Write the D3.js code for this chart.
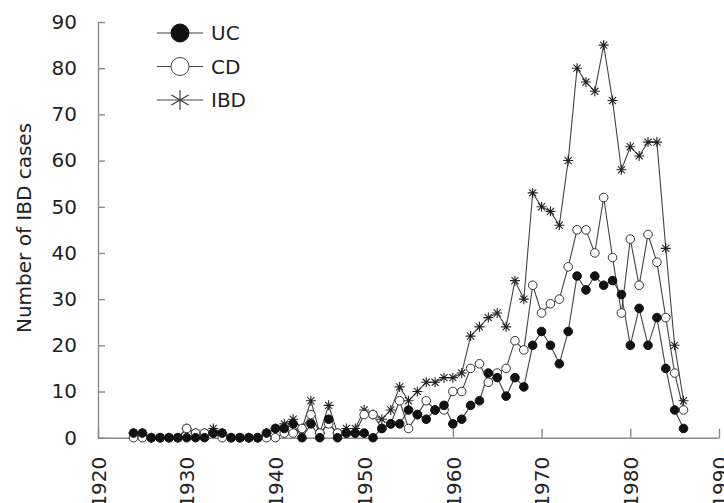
<!DOCTYPE html>
<html>
<head>
<meta charset="utf-8">
<script src="https://cdn.jsdelivr.net/npm/d3@7"></script>
<style>
body { margin: 0; background: #fff; }
text { font-family: "DejaVu Sans", sans-serif; }
</style>
</head>
<body>
<div id="chart"></div>
<script>
var years = [1924, 1925, 1926, 1927, 1928, 1929, 1930, 1931, 1932, 1933,
             1934, 1935, 1936, 1937, 1938, 1939, 1940, 1941, 1942, 1943,
             1944, 1945, 1946, 1947, 1948, 1949, 1950, 1951, 1952, 1953,
             1954, 1955, 1956, 1957, 1958, 1959, 1960, 1961, 1962, 1963,
             1964, 1965, 1966, 1967, 1968, 1969, 1970, 1971, 1972, 1973,
             1974, 1975, 1976, 1977, 1978, 1979, 1980, 1981, 1982, 1983,
             1984, 1985, 1986];

var ucCases = [1, 1, 0, 0, 0, 0, 0, 0, 0, 1,
               1, 0, 0, 0, 0, 1, 2, 2, 3, 0,
               3, 0, 4, 0, 1, 1, 1, 0, 2, 3,
               3, 6, 5, 4, 6, 7, 3, 4, 7, 8,
               14, 13, 9, 13, 11, 20, 23, 20, 16, 23,
               35, 32, 35, 33, 34, 31, 20, 28, 20, 26,
               15, 6, 2];

var cdCases = [0, 0, 0, 0, 0, 0, 2, 1, 1, 1,
               0, 0, 0, 0, 0, 0, 0, 1, 1, 2,
               5, 1, 3, 1, 1, 1, 5, 5, 2, 3,
               8, 2, 5, 8, 6, 6, 10, 10, 15, 16,
               12, 14, 15, 21, 19, 33, 27, 29, 30, 37,
               45, 45, 40, 52, 39, 27, 43, 33, 44, 38,
               26, 14, 6];

var ibdCases = [1, 1, 0, 0, 0, 0, 2, 1, 1, 2,
                1, 0, 0, 0, 0, 1, 2, 3, 4, 2,
                8, 1, 7, 1, 2, 2, 6, 5, 4, 6,
                11, 8, 10, 12, 12, 13, 13, 14, 22, 24,
                26, 27, 24, 34, 30, 53, 50, 49, 46, 60,
                80, 77, 75, 85, 73, 58, 63, 61, 64, 64,
                41, 20, 8];

var xTicks = [1920, 1930, 1940, 1950, 1960, 1970, 1980, 1990];
var yTicks = [0, 10, 20, 30, 40, 50, 60, 70, 80, 90];
var seriesNames = ["UC", "CD", "IBD"];

var width = 724, height = 503;
var axisColor = "#8a8a8a", inkColor = "#222";

var svg = d3.select("#chart").append("svg")
    .attr("width", width)
    .attr("height", height);

var x = d3.scaleLinear().domain([1920, 1990]).range([98, 719]);
var y = d3.scaleLinear().domain([0, 90]).range([437.7, 22]);

// 8-armed star used for the IBD points
var star8 = {
    draw: function(ctx, size) {
        var r = Math.sqrt(size) / 2, d = r * 0.7071;
        ctx.moveTo(-r, 0); ctx.lineTo(r, 0);
        ctx.moveTo(0, -r); ctx.lineTo(0, r);
        ctx.moveTo(-d, -d); ctx.lineTo(d, d);
        ctx.moveTo(-d, d); ctx.lineTo(d, -d);
    }
};

// y axis
var yAxis = svg.append("g")
    .attr("transform", "translate(" + x(1920) + ",0)")
    .call(d3.axisLeft(y).tickValues(yTicks).tickSizeInner(-7).tickSizeOuter(0).tickPadding(21));

// x axis
var xAxis = svg.append("g")
    .attr("transform", "translate(0," + y(0) + ")")
    .call(d3.axisBottom(x).tickValues(xTicks).tickFormat(d3.format("d"))
        .tickSizeInner(-9).tickSizeOuter(0));

xAxis.selectAll("text")
    .attr("transform", "rotate(-90)")
    .attr("text-anchor", "end")
    .attr("x", -19)
    .attr("y", 0)
    .attr("dy", "0.36em");

svg.selectAll(".domain, .tick line")
    .attr("stroke", axisColor)
    .attr("stroke-width", 1.4);
svg.selectAll(".tick text")
    .attr("fill", inkColor)
    .style("font-size", "20px");

// y label
svg.append("text")
    .attr("transform", "translate(24,228) rotate(-90)")
    .attr("text-anchor", "middle")
    .attr("dy", "0.35em")
    .attr("fill", inkColor)
    .style("font-size", "20px")
    .text("Number of IBD cases");

var line = d3.line()
    .x(function(d) { return x(d[0]); })
    .y(function(d) { return y(d[1]); });

function pairs(vals) {
    return years.map(function(yr, i) { return [yr, vals[i]]; });
}

var series = [
    { name: "IBD", values: pairs(ibdCases) },
    { name: "CD", values: pairs(cdCases) },
    { name: "UC", values: pairs(ucCases) }
];

series.forEach(function(s) {
    svg.append("path")
        .datum(s.values)
        .attr("fill", "none")
        .attr("stroke", "#444")
        .attr("stroke-width", 1.1)
        .attr("d", line);
});

series.forEach(function(s) {
    var g = svg.append("g");
    if (s.name == "IBD") {
        g.selectAll("path").data(s.values).enter().append("path")
            .attr("transform", function(d) { return "translate(" + x(d[0]) + "," + y(d[1]) + ")"; })
            .attr("d", d3.symbol().type(star8).size(100))
            .attr("fill", "none")
            .attr("stroke", "#222")
            .attr("stroke-width", 1.1);
    } else {
        g.selectAll("circle").data(s.values).enter().append("circle")
            .attr("cx", function(d) { return x(d[0]); })
            .attr("cy", function(d) { return y(d[1]); })
            .attr("r", 4.3)
            .attr("fill", s.name == "UC" ? "#111" : "#fff")
            .attr("stroke", s.name == "UC" ? "#111" : "#333")
            .attr("stroke-width", 1);
    }
});

// legend
var legend = svg.append("g").attr("transform", "translate(157,33)");
var items = legend.selectAll("g").data(seriesNames).enter().append("g")
    .attr("transform", function(d, i) { return "translate(0," + (i * 33.5) + ")"; });

items.append("line")
    .attr("x1", 0).attr("x2", 46)
    .attr("stroke", "#444").attr("stroke-width", 1.1);

items.each(function(d) {
    var it = d3.select(this);
    if (d == "IBD") {
        it.append("path")
            .attr("transform", "translate(23,0)")
            .attr("d", d3.symbol().type(d3.symbolAsterisk).size(280))
            .attr("fill", "none").attr("stroke", "#333").attr("stroke-width", 1.1);
    } else {
        it.append("circle")
            .attr("cx", 23).attr("r", 9)
            .attr("fill", d == "UC" ? "#111" : "#fff")
            .attr("stroke", d == "UC" ? "#111" : "#444")
            .attr("stroke-width", 1);
    }
});

items.append("text")
    .attr("x", 54)
    .attr("dy", "0.36em")
    .attr("fill", inkColor)
    .style("font-size", "20px")
    .text(function(d) { return d; });
</script>
</body>
</html>
